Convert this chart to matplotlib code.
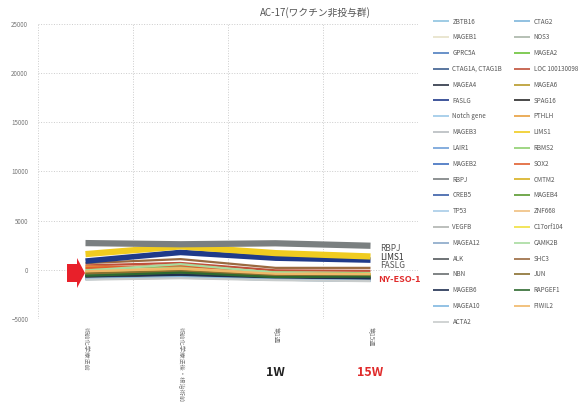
import numpy as np
import matplotlib
matplotlib.use("Agg")
import matplotlib.pyplot as plt
import matplotlib.transforms as mtransforms
from matplotlib.patches import FancyArrow

plt.rcParams['font.family'] = ['Noto Sans CJK JP', 'DejaVu Sans']

# time points (x categories)
timepoints = ["術前化学療法前", "術前化学療法後・根治術前", "第1週", "第15週"]

# genes in legend order (row by row, two per row)
genes = [
    "ZBTB16", "CTAG2", "MAGEB1", "NOS3", "GPRC5A", "MAGEA2",
    "CTAG1A, CTAG1B", "LOC 100130098", "MAGEA4", "MAGEA6", "FASLG", "SPAG16",
    "Notch gene", "PTHLH", "MAGEB3", "LIMS1", "LAIR1", "RBMS2",
    "MAGEB2", "SOX2", "RBPJ", "CMTM2", "CREB5", "MAGEB4",
    "TP53", "ZNF668", "VEGFB", "C17orf104", "MAGEA12", "CAMK2B",
    "ALK", "SHC3", "NBN", "JUN", "MAGEB6", "RAPGEF1",
    "MAGEA10", "PIWIL2", "ACTA2",
]

# expression values at the four time points
values = {
    "ZBTB16":         [-900, -700, -950, -1050],
    "CTAG2":          [-850, -650, -900, -1000],
    "MAGEB1":         [-500, -250, -600, -700],
    "NOS3":           [-750, -550, -850, -950],
    "GPRC5A":         [-700, -500, -800, -900],
    "MAGEA2":         [-300, 100, -500, -550],
    "CTAG1A, CTAG1B": [-650, -450, -750, -800],
    "LOC 100130098":  [450, 700, -50, -100],
    "MAGEA4":         [-600, -400, -700, -750],
    "MAGEA6":         [-400, -200, -600, -650],
    "FASLG":          [890, 1770, 1190, 990],
    "SPAG16":         [-550, -350, -700, -720],
    "Notch gene":     [-800, -600, -850, -950],
    "PTHLH":          [340, 200, -510, -510],
    "MAGEB3":         [-850, -700, -950, -1050],
    "LIMS1":          [1600, 2380, 1700, 1360],
    "LAIR1":          [-750, -550, -900, -980],
    "RBMS2":          [100, 350, -250, -350],
    "MAGEB2":         [-700, -500, -800, -880],
    "SOX2":           [200, 450, -400, -450],
    "RBPJ":           [2720, 2600, 2700, 2450],
    "CMTM2":          [-200, 50, -450, -500],
    "CREB5":          [-650, -450, -750, -820],
    "MAGEB4":         [-450, -150, -650, -700],
    "TP53":           [-900, -750, -1000, -1100],
    "ZNF668":         [-100, 150, -350, -420],
    "VEGFB":          [-950, -800, -1000, -1120],
    "C17orf104":      [-250, 0, -450, -480],
    "MAGEA12":        [-850, -650, -900, -1000],
    "CAMK2B":         [-70, 580, -300, -600],
    "ALK":            [-700, -550, -850, -900],
    "SHC3":           [680, 1090, 200, 200],
    "NBN":            [-600, -400, -800, -850],
    "JUN":            [-350, -100, -550, -600],
    "MAGEB6":         [-650, -500, -780, -850],
    "RAPGEF1":        [-610, -280, -740, -680],
    "MAGEA10":        [-950, -750, -1000, -1120],
    "PIWIL2":         [-150, 100, -400, -450],
    "ACTA2":          [-1000, -850, -1050, -1150],
}

colors = {
    "ZBTB16": "#8fc3e0", "CTAG2": "#7fb6dc", "MAGEB1": "#e6e2c8", "NOS3": "#a9b5a8",
    "GPRC5A": "#4f7fc0", "MAGEA2": "#6cc23a", "CTAG1A, CTAG1B": "#3d5f8f",
    "LOC 100130098": "#c0503a", "MAGEA4": "#2b3344", "MAGEA6": "#b89a2a",
    "FASLG": "#1f3a8a", "SPAG16": "#2a2a2a", "Notch gene": "#9cc8e8", "PTHLH": "#e8a040",
    "MAGEB3": "#b8bcc0", "LIMS1": "#f0cc20", "LAIR1": "#6f9fd8", "RBMS2": "#8fd070",
    "MAGEB2": "#3f6fc0", "SOX2": "#e06030", "RBPJ": "#7a7f80", "CMTM2": "#d8b020",
    "CREB5": "#3a5fa8", "MAGEB4": "#5a9a30", "TP53": "#a8cce8", "ZNF668": "#f0c080",
    "VEGFB": "#b0b4b0", "C17orf104": "#f0e040", "MAGEA12": "#8aa8c8", "CAMK2B": "#a8dca0",
    "ALK": "#555a5e", "SHC3": "#9a6a40", "NBN": "#6a6e70", "JUN": "#8a7030",
    "MAGEB6": "#1f2f50", "RAPGEF1": "#2f6a30", "MAGEA10": "#80b8e0", "PIWIL2": "#f0b868",
    "ACTA2": "#c8cccc",
}

thick = {"RBPJ": 4.5, "LIMS1": 4.5, "FASLG": 4.0}

fig = plt.figure(figsize=(5.79, 4.07), dpi=100)
ax = fig.add_axes([38 / 579, 1 - 319 / 407, (418 - 38) / 579, (319 - 24) / 407])

x = np.arange(len(timepoints))
handles = {}
for g in genes:
    lw = thick.get(g, 1.6)
    line, = ax.plot(x, values[g], color=colors[g], lw=lw, label=g,
                    solid_capstyle="butt", zorder=3 if g in thick else 2)
    handles[g] = line

ax.set_xlim(-0.5, 3.5)
ax.set_ylim(-5000, 25000)
ax.set_yticks(np.arange(-5000, 25001, 5000))
ax.set_xticks(x)
ax.set_xticklabels(timepoints, rotation=-90, fontsize=4.5, color="#777777", va="top")
ax.tick_params(axis="y", labelsize=4.5, colors="#777777", length=0, pad=7)
ax.tick_params(axis="x", length=0, pad=6)

ax.set_xticks(np.arange(-0.5, 3.6, 1), minor=True)
ax.tick_params(which="minor", length=0)
ax.grid(False)
ax.grid(True, which="minor", axis="x", color="#cccccc", ls=":", lw=0.7)
ax.grid(True, which="major", axis="y", color="#cccccc", ls=":", lw=0.7)
for s in ax.spines.values():
    s.set_visible(False)

fig.text(315 / 579, 1 - 13 / 407, "AC-17(ワクチン非投与群)", ha="center", va="center",
         fontsize=7, color="#555555")

# gene labels at the right end
ax.text(3.1, 2140, "RBPJ", fontsize=6, color="#555555", va="center")
ax.text(3.1, 1220, "LIMS1", fontsize=6, color="#333333", va="center")
ax.text(3.1, 410, "FASLG", fontsize=6, color="#555555", va="center")
ax.text(3.08, -1020, "NY-ESO-1", fontsize=6.5, color="#e02a2a", va="center", fontweight="bold")

# red block arrow pointing at the starting values (figure pixel coordinates)
H = 407
fig.patches.append(FancyArrow(67, H - 273, 18, 0, width=18, head_width=30, head_length=8,
                              length_includes_head=True, color="#e8202a", lw=0,
                              transform=mtransforms.IdentityTransform(), figure=fig))

trans = mtransforms.blended_transform_factory(ax.transData, fig.transFigure)
ax.text(2, 1 - 373 / 407, "1W", transform=trans, ha="center", va="center",
        fontsize=9, fontweight="bold", color="#222222")
ax.text(3, 1 - 373 / 407, "15W", transform=trans, ha="center", va="center",
        fontsize=9, fontweight="bold", color="#e02a2a")

# legend: reference fills rows left to right, matplotlib fills columns
order = genes[0::2] + genes[1::2]
leg = fig.legend([handles[g] for g in order], order, ncol=2, fontsize=4.5,
                 loc="upper left", bbox_to_anchor=(430 / 579, 1 - 15 / 407),
                 frameon=False, handlelength=2.7, handletextpad=0.5,
                 columnspacing=1.8, labelspacing=1.25, borderaxespad=0)
for t in leg.get_texts():
    t.set_color("#555555")
for h in leg.get_lines():
    h.set_linewidth(1.2)

fig.savefig("out.png", dpi=100)
